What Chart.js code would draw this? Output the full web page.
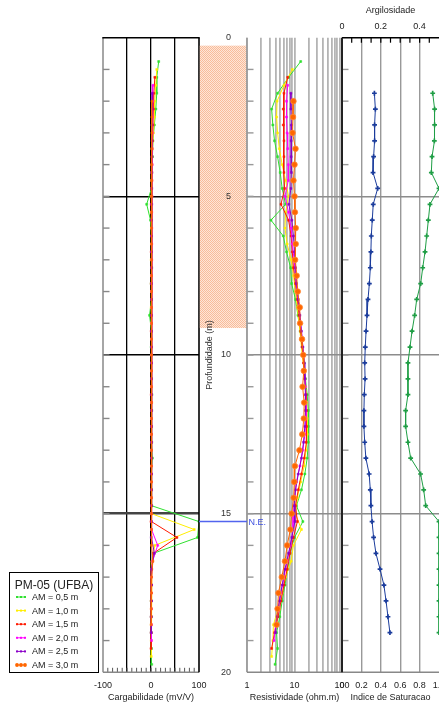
<!DOCTYPE html>
<html>
<head>
<meta charset="utf-8">
<title>PM-05 (UFBA)</title>
<script src="https://cdn.jsdelivr.net/npm/chart.js@4.4.1/dist/chart.umd.min.js"></script>
<style>
  html, body { margin:0; padding:0; background:#fff; overflow:hidden; }
  #wrap { position:relative; width:439px; height:705px; overflow:hidden; }
  #wrap canvas { position:absolute; left:0; top:0; }
</style>
</head>
<body>
<div id="wrap">
  <canvas id="chgChart" width="439" height="705"></canvas>
  <canvas id="resChart" width="439" height="705"></canvas>
  <canvas id="satChart" width="460" height="705"></canvas>
</div>
<script>
// ---- data (depth in m) ----
const SERIES_LABELS = ["AM = 0,5 m","AM = 1,0 m","AM = 1,5 m","AM = 2,0 m","AM = 2,5 m","AM = 3,0 m"];

const DEPTH_AM05 = [0.75,1.25,1.75,2.25,2.75,3.25,3.75,4.25,4.75,5.25,5.75,6.25,6.75,7.25,7.75,8.25,8.75,9.25,9.75,10.25,10.75,11.25,11.75,12.25,12.75,13.25,13.75,14.25,14.75,15.25,15.75,16.25,16.75,17.25,17.75,18.25,18.75,19.25,19.75];
const DEPTH_AM10 = [1,1.5,2,2.5,3,3.5,4,4.5,5,5.5,6,6.5,7,7.5,8,8.5,9,9.5,10,10.5,11,11.5,12,12.5,13,13.5,14,14.5,15,15.5,16,16.5,17,17.5,18,18.5,19,19.5];
const DEPTH_AM15 = [1.25,1.75,2.25,2.75,3.25,3.75,4.25,4.75,5.25,5.75,6.25,6.75,7.25,7.75,8.25,8.75,9.25,9.75,10.25,10.75,11.25,11.75,12.25,12.75,13.25,13.75,14.25,14.75,15.25,15.75,16.25,16.75,17.25,17.75,18.25,18.75,19.25];
const DEPTH_AM20 = [1.5,2,2.5,3,3.5,4,4.5,5,5.5,6,6.5,7,7.5,8,8.5,9,9.5,10,10.5,11,11.5,12,12.5,13,13.5,14,14.5,15,15.5,16,16.5,17,17.5,18,18.5,19];
const DEPTH_AM25 = [1.75,2.25,2.75,3.25,3.75,4.25,4.75,5.25,5.75,6.25,6.75,7.25,7.75,8.25,8.75,9.25,9.75,10.25,10.75,11.25,11.75,12.25,12.75,13.25,13.75,14.25,14.75,15.25,15.75,16.25,16.75,17.25,17.75,18.25,18.75];
const DEPTH_AM30 = [2,2.5,3,3.5,4,4.5,5,5.5,6,6.5,7,7.5,8,8.5,9,9.5,10,10.5,11,11.5,12,12.5,13,13.5,14,14.5,15,15.5,16,16.5,17,17.5,18,18.5];

// cargabilidade (mV/V)
const CHG_AM05 = [16,12,12,10,7, 4,3,1.5,1,-9, -1,1,1,1.5,0.5, 1,-3,1,0.5,1, 1,2,1.5,1,1.5, 3,1,1,1.5,100, 97,5,1,1,0.5, 0.5,0.5,1,1.5];
const CHG_AM10 = [12,10,8,7,5, 3,2,1.5,1,0.5, 1,1,0.5,1,1, 0.5,1,1,1,1, 1,1.5,1,1,1, 1,1,1,1,90, 8,2,1,1,1, 0.5,0.5,0.5];
const CHG_AM15 = [8,6,5,4,3, 2,1.5,1,0.5,1, 1,0.5,1,0.5,1, 1,0.5,1,1,1, 0.5,1,1,1,1, 1,1,1,0,54, 5,1.5,1,0.5,0.5, 0.5,0];
const CHG_AM20 = [4,3.5,3,3,2.5, 2.5,2,2,1.5,1.5, 1.5,1.5,1,1,1, 1,1,1,1,1, 1,1,1,1,1, 1,1,1,1,14, 3,1,1,1,1, 1];
const CHG_AM25 = [2.5,2.5,2,2,2, 1.5,1.5,1.5,1,1, 1,1,1,1,1, 1,1,1,1,1, 1,1,1,1,1, 1,1,1,0.5,7, 1,1,1,0.5,0.5];
const CHG_AM30 = [2,2,2,1.5,1.5, 1.5,1.5,1,1,1, 1,1,1,1,1, 1,1,1,1,1, 1,1,1,1,1, 1,1,1,1,4, 1,1,0.5,0.5];

// resistividade (ohm.m)
const RES_AM05 = [13.5,7.5,4.4,3.3,3.5, 3.8,4.4,5.0,5.5,6.5, 3.2,5.8,6.8,8.3,8.7, 10.5,11.8,13.2,14.5,16, 17,18.5,19.5,19.5,19.5, 18.5,16.5,14,11,15, 10,8,7.2,6.3,5.5, 4.9,4.2,4.4,3.9];
const RES_AM10 = [9,6,4.3,4.2,4.4, 4.8,5.5,6.5,7.5,6.5, 6.3,7,8.5,9.5,10.5, 11.5,12.5,13.5,14.5,16, 17,18,18.5,18.5,17.5, 16,13.5,11.5,10.5,14, 9.5,8.5,6.5,5.5,4.5, 3.6,3.5,3.3];
const RES_AM15 = [7.2,6,5.8,5.8,6, 6,6,6.2,5.2,7.5, 8.5,9,9.5,10.5,11.5, 12.5,13.5,14.5,15.5,16.5, 17.5,18,18,17.5,16, 14,12,10.5,11.5,9.5, 8,7,6,5.2,4.5, 3.8,3.3];
const RES_AM20 = [7.2,6.8,6.8,7,7.2, 7.4,7.4,6.3,7.5,8.5, 9,9.8,10.5,11.5,12.5, 13.5,14.5,15.5,16.5,17, 17.5,17.5,16.5,15,13, 11,10,9.5,9.3,8.2, 7,6,5.2,4.5,4, 3.7];
const RES_AM25 = [8.4,8.4,8.6,8.5,8.5, 8.6,8.4,7.6,8.8,9.5, 10,10.5,11,12,13, 14,15,16,16.5,17, 17,16.5,15.5,14,12, 10.5,9.8,10.2,8.8,7.5, 6.3,5.5,4.8,4.3,4];
const RES_AM30 = [9.5,9.3,9.1,10.5,10, 9.5,10,10.2,10.6,10.6, 10.3,11.1,11.7,12.9,13.1, 14.4,15.3,15.7,14.8,16, 15.7,14.6,12.7,10.2,9.9, 9.6,8.7,8.2,7,6.3, 5.4,4.6,4.4,4.2];

// perfil interpretado
const PROFILE_DEPTH = [1.75,2.25,2.75,3.25,3.75,4.25,4.75,5.25,5.75,6.25,6.75,7.25,7.75,8.25,8.75,9.25,9.75,10.25,10.75,11.25,11.75,12.25,12.75,13.25,13.75,14.25,14.75,15.25,15.75,16.25,16.75,17.25,17.75,18.25,18.75];
const ARGILOSIDADE = [0.167,0.172,0.168,0.168,0.163, 0.160,0.184,0.161,0.156,0.151, 0.149,0.146,0.141,0.134,0.129, 0.124,0.120,0.117,0.119,0.115, 0.113,0.113,0.117,0.123,0.140, 0.146,0.149,0.155,0.163,0.175, 0.196,0.216,0.227,0.237,0.247];
const SATURACAO = [0.935,0.955,0.955,0.952,0.928, 0.921,1.0,0.907,0.89,0.873, 0.856,0.832,0.811,0.77,0.749, 0.722,0.701,0.68,0.68,0.68, 0.656,0.656,0.68,0.708,0.81, 0.842,0.863,1,1,1, 1,1,1,1,1];

const NE_DEPTH = 15.25;          // nivel estatico
const SHADE_ZONE = [0.25, 9.15]; // faixa hachurada

// ticks / labels
const DEPTH_GRID = [0,5,10,15,20];
const CHG_GRID = [-100,-50,0,50,100];
const CHG_LABELS = [-100,0,100];
const RES_GRID = [1,2,3,4,5,6,7,8,9,10,20,30,40,50,60,70,80,90,100];
const RES_LABELS = [1,10,100];
const ARG_LABELS = [0,0.2,0.4];
const SAT_LABELS = [0,0.2,0.4,0.6,0.8,1];

// ---- layout / style ----
const W = 439, H = 705;
const PLOT_TOP = 37.7, PLOT_BOTTOM = 672.3;
const PANEL_CHG = [103, 199], PANEL_RES = [247, 342], PANEL_SAT = [342, 439];
const COLORS = ["#2fe02f","#ffee00","#ff1a00","#ff00ff","#8a00c8","#ff6600"];
const FONT = '"Liberation Sans", Arial, sans-serif';

Chart.defaults.font.family = FONT;
Chart.defaults.font.size = 9;
Chart.defaults.color = "#222";

const DEPTHS = [DEPTH_AM05, DEPTH_AM10, DEPTH_AM15, DEPTH_AM20, DEPTH_AM25, DEPTH_AM30];

function pairs(xs, ys){ return xs.map((v,i) => ({ x: v, y: ys[i] })); }

function buildSets(values, bigLast){
  return values.map((vals, i) => {
    const big = bigLast && i === 5;
    return {
      label: SERIES_LABELS[i],
      data: pairs(vals, DEPTHS[i]),
      showLine: true,
      borderColor: COLORS[i],
      backgroundColor: COLORS[i],
      borderWidth: 1,
      pointStyle: big ? "circle" : "rect",
      pointRadius: big ? 2.8 : 1.4,
      pointBorderWidth: big ? 0.8 : 0.5,
      pointBorderColor: big ? "#ff8a3a" : COLORS[i],
      order: 5 - i
    };
  });
}

function seg(ctx, x1, y1, x2, y2, color, w){
  ctx.save();
  ctx.strokeStyle = color; ctx.lineWidth = w;
  ctx.beginPath(); ctx.moveTo(x1, y1); ctx.lineTo(x2, y2); ctx.stroke();
  ctx.restore();
}

function depthTicks(chart, color){
  const { ctx, chartArea: a, scales: { y } } = chart;
  for (let d = 1; d < 20; d++) {
    const py = y.getPixelForValue(d);
    seg(ctx, a.left, py, a.left + 6.5, py, color, 1.4);
  }
}

const baseOpts = {
  responsive: false,
  animation: false,
  devicePixelRatio: 1,
  locale: "en-US",
  events: [],
  plugins: { legend: { display: false }, tooltip: { enabled: false } }
};

function depthAxis(extra){
  return Object.assign({
    type: "linear", reverse: true, min: 0, max: 20,
    afterBuildTicks: s => { s.ticks = DEPTH_GRID.map(v => ({ value: v })); },
    afterFit: s => { s.width = 0; },
    ticks: { display: false },
    grid: { drawTicks: false, color: "#999", lineWidth: 1.5 },
    border: { display: false }
  }, extra);
}

// ---- panel 1: cargabilidade + legend ----
const chgFrame = {
  id: "chgFrame",
  afterDraw(chart){
    const { ctx, chartArea: a, scales: { x } } = chart;
    depthTicks(chart, "#888");
    for (let v = -90; v < 100; v += 10) {
      const px = x.getPixelForValue(v);
      seg(ctx, px, a.bottom, px, a.bottom - 4.5, "#555", 1);
    }
    seg(ctx, a.left, a.top, a.left, a.bottom, "#888", 1.5);
    seg(ctx, a.left, a.bottom, a.right, a.bottom, "#888", 1.5);
    seg(ctx, a.left - 0.7, a.top, a.right + 0.7, a.top, "#000", 1.5);
    seg(ctx, a.right, a.top, a.right, a.bottom, "#000", 1.6);

    // legend box
    const bx = 9.5, by = 572.5, bw = 89, bh = 100;
    ctx.save();
    ctx.fillStyle = "#fff"; ctx.fillRect(bx, by, bw, bh);
    ctx.strokeStyle = "#000"; ctx.lineWidth = 1; ctx.strokeRect(bx, by, bw, bh);
    ctx.fillStyle = "#222"; ctx.textAlign = "center"; ctx.textBaseline = "middle";
    ctx.font = "12px " + FONT;
    ctx.fillText("PM-05 (UFBA)", bx + bw / 2, by + 13);
    ctx.font = "9px " + FONT; ctx.textAlign = "left";
    chart.data.datasets.forEach((ds, i) => {
      const ly = by + 24.5 + i * 13.6;
      const col = ds.borderColor;
      seg(ctx, 17, ly, 25, ly, col, 1);
      ctx.fillStyle = col;
      [17, 21, 25].forEach(px => {
        if (i === 5) { ctx.beginPath(); ctx.arc(px, ly, 1.9, 0, Math.PI * 2); ctx.fill(); }
        else ctx.fillRect(px - 1, ly - 1, 2, 2);
      });
      ctx.fillStyle = "#222";
      ctx.fillText(ds.label, 32, ly + 0.5);
    });
    ctx.restore();
  }
};

const chgChart = new Chart(document.getElementById("chgChart"), {
  type: "scatter",
  data: { datasets: buildSets([CHG_AM05, CHG_AM10, CHG_AM15, CHG_AM20, CHG_AM25, CHG_AM30], false) },
  options: Object.assign({}, baseOpts, {
    layout: { padding: { left: PANEL_CHG[0], right: W - PANEL_CHG[1], top: PLOT_TOP, bottom: 0 } },
    scales: {
      x: {
        type: "linear", position: "bottom", min: -100, max: 100,
        afterBuildTicks: s => { s.ticks = CHG_GRID.map(v => ({ value: v })); },
        afterFit: s => { s.height = H - PLOT_BOTTOM; },
        ticks: { autoSkip: false, maxRotation: 0, padding: 8,
                 callback: v => CHG_LABELS.includes(v) ? String(v) : "" },
        grid: { drawTicks: false, lineWidth: 1.3,
                color: c => (c.tick && [-50, 0, 50].includes(c.tick.value)) ? "#000" : "rgba(0,0,0,0)" },
        border: { display: false },
        title: { display: true, text: "Cargabilidade (mV/V)", padding: { top: 0, bottom: 2 } }
      },
      y: depthAxis({
        grid: { drawTicks: false,
                color: c => !c.tick ? "rgba(0,0,0,0)" : c.tick.value === 15 ? "#444" :
                       (c.tick.value > 0 && c.tick.value < 20 ? "#000" : "rgba(0,0,0,0)"),
                lineWidth: c => (c.tick && c.tick.value === 15) ? 2.6 : 1.4 }
      })
    }
  }),
  plugins: [chgFrame]
});

// ---- panel 2: resistividade ----
function shadePattern(ctx){
  const t = document.createElement("canvas");
  t.width = 2; t.height = 2;
  const g = t.getContext("2d");
  g.fillStyle = "#fee6d8"; g.fillRect(0, 0, 2, 2);
  g.fillStyle = "#f8bc9a"; g.fillRect(0, 0, 1, 1); g.fillRect(1, 1, 1, 1);
  return ctx.createPattern(t, "repeat");
}

const resFrame = {
  id: "resFrame",
  beforeDraw(chart){
    const { ctx, chartArea: a, scales: { y } } = chart;
    const x1 = chgChart.chartArea.right + 0.8;
    const y1 = y.getPixelForValue(SHADE_ZONE[0]);
    const y2 = y.getPixelForValue(SHADE_ZONE[1]);
    ctx.save();
    ctx.fillStyle = shadePattern(ctx);
    ctx.fillRect(x1, y1, a.left - x1, y2 - y1);
    ctx.restore();
  },
  afterDraw(chart){
    const { ctx, chartArea: a, scales: { y } } = chart;
    depthTicks(chart, "#999");
    seg(ctx, a.left, a.top, a.left, a.bottom, "#999", 1.5);
    seg(ctx, a.left, a.bottom, a.right, a.bottom, "#888", 1.5);
    // N.E.
    const ny = y.getPixelForValue(NE_DEPTH);
    seg(ctx, chgChart.chartArea.right, ny, a.left, ny, "#5264ee", 1.5);
    ctx.save();
    ctx.fillStyle = "#3d4fe0"; ctx.font = "9px " + FONT;
    ctx.textAlign = "left"; ctx.textBaseline = "middle";
    ctx.fillText("N.E.", a.left + 1.5, ny + 0.5);
    ctx.restore();
  }
};

const resChart = new Chart(document.getElementById("resChart"), {
  type: "scatter",
  data: { datasets: buildSets([RES_AM05, RES_AM10, RES_AM15, RES_AM20, RES_AM25, RES_AM30], true) },
  options: Object.assign({}, baseOpts, {
    layout: { padding: { left: 200, right: W - PANEL_RES[1], top: PLOT_TOP, bottom: 0 } },
    scales: {
      x: {
        type: "logarithmic", position: "bottom", min: 1, max: 100,
        afterBuildTicks: s => { s.ticks = RES_GRID.map(v => ({ value: v })); },
        afterFit: s => { s.height = H - PLOT_BOTTOM; },
        ticks: { autoSkip: false, maxRotation: 0, padding: 8,
                 callback: v => RES_LABELS.includes(v) ? String(v) : "" },
        grid: { drawTicks: false, color: "#b4b4b4", lineWidth: 1.8 },
        border: { display: false },
        title: { display: true, text: "Resistividade (ohm.m)", padding: { top: 0, bottom: 2 } }
      },
      y: depthAxis({
        afterFit: s => { s.width = PANEL_RES[0] - 200; },
        ticks: { display: true, padding: 16, color: "#333" },
        grid: { drawTicks: false, lineWidth: 1.5,
                color: c => (c.tick && c.tick.value > 0 && c.tick.value < 20) ? "#8c8c8c" : "rgba(0,0,0,0)" },
        title: { display: true, text: "Profundidade (m)", color: "#333", padding: { top: 4.6, bottom: 0 } }
      })
    }
  }),
  plugins: [resFrame]
});

// ---- panel 3: argilosidade / indice de saturacao ----
const satFrame = {
  id: "satFrame",
  afterDraw(chart){
    const { ctx, chartArea: a, scales: { xTop } } = chart;
    depthTicks(chart, "#999");
    seg(ctx, a.left, a.bottom, a.right, a.bottom, "#888", 1.5);
    for (let i = 1; i < 10; i++) {
      const px = xTop.getPixelForValue(i * 0.05);
      seg(ctx, px, a.top, px, a.top + 5, "#000", 1.2);
    }
    seg(ctx, a.left, a.top, a.right, a.top, "#000", 1.6);
    seg(ctx, a.left, a.top, a.left, a.bottom, "#222", 2);
  }
};

new Chart(document.getElementById("satChart"), {
  type: "scatter",
  data: {
    datasets: [
      { label: "Argilosidade", data: pairs(ARGILOSIDADE, PROFILE_DEPTH), xAxisID: "xTop", yAxisID: "y",
        showLine: true, borderColor: "#1b3c9c", backgroundColor: "#1b3c9c", borderWidth: 1,
        pointStyle: "cross", pointRadius: 2.4, pointBorderWidth: 1.7, pointBorderColor: "#1b3c9c" },
      { label: "Indice de Saturacao", data: pairs(SATURACAO, PROFILE_DEPTH), xAxisID: "xBot", yAxisID: "y",
        showLine: true, borderColor: "#1f9e45", backgroundColor: "#1f9e45", borderWidth: 1,
        pointStyle: "cross", pointRadius: 2.4, pointBorderWidth: 1.7, pointBorderColor: "#1f9e45" }
    ]
  },
  options: Object.assign({}, baseOpts, {
    layout: { padding: { left: PANEL_SAT[0], right: 460 - PANEL_SAT[1], top: 0, bottom: 0 } },
    scales: {
      xTop: {
        type: "linear", position: "top", min: 0, max: 0.5,
        afterBuildTicks: s => { s.ticks = ARG_LABELS.map(v => ({ value: v })); },
        afterFit: s => { s.height = PLOT_TOP; },
        ticks: { autoSkip: false, maxRotation: 0, padding: 5.6 },
        grid: { drawOnChartArea: false, drawTicks: false },
        border: { display: false },
        title: { display: true, text: "Argilosidade", padding: { top: 5.6, bottom: 0 } }
      },
      xBot: {
        type: "linear", position: "bottom", min: 0, max: 1,
        afterBuildTicks: s => { s.ticks = SAT_LABELS.map(v => ({ value: v })); },
        afterFit: s => { s.height = H - PLOT_BOTTOM; },
        ticks: { autoSkip: false, maxRotation: 0, padding: 8 },
        grid: { drawTicks: false, lineWidth: 1.4,
                color: c => (c.tick && c.tick.value > 0 && c.tick.value < 1) ? "#999" : "rgba(0,0,0,0)" },
        border: { display: false },
        title: { display: true, text: "Indice de Saturacao", padding: { top: 0, bottom: 2 } }
      },
      y: depthAxis({
        grid: { drawTicks: false, lineWidth: 1.5,
                color: c => (c.tick && c.tick.value > 0 && c.tick.value < 20) ? "#8c8c8c" : "rgba(0,0,0,0)" }
      })
    }
  }),
  plugins: [satFrame]
});
</script>
</body>
</html>
